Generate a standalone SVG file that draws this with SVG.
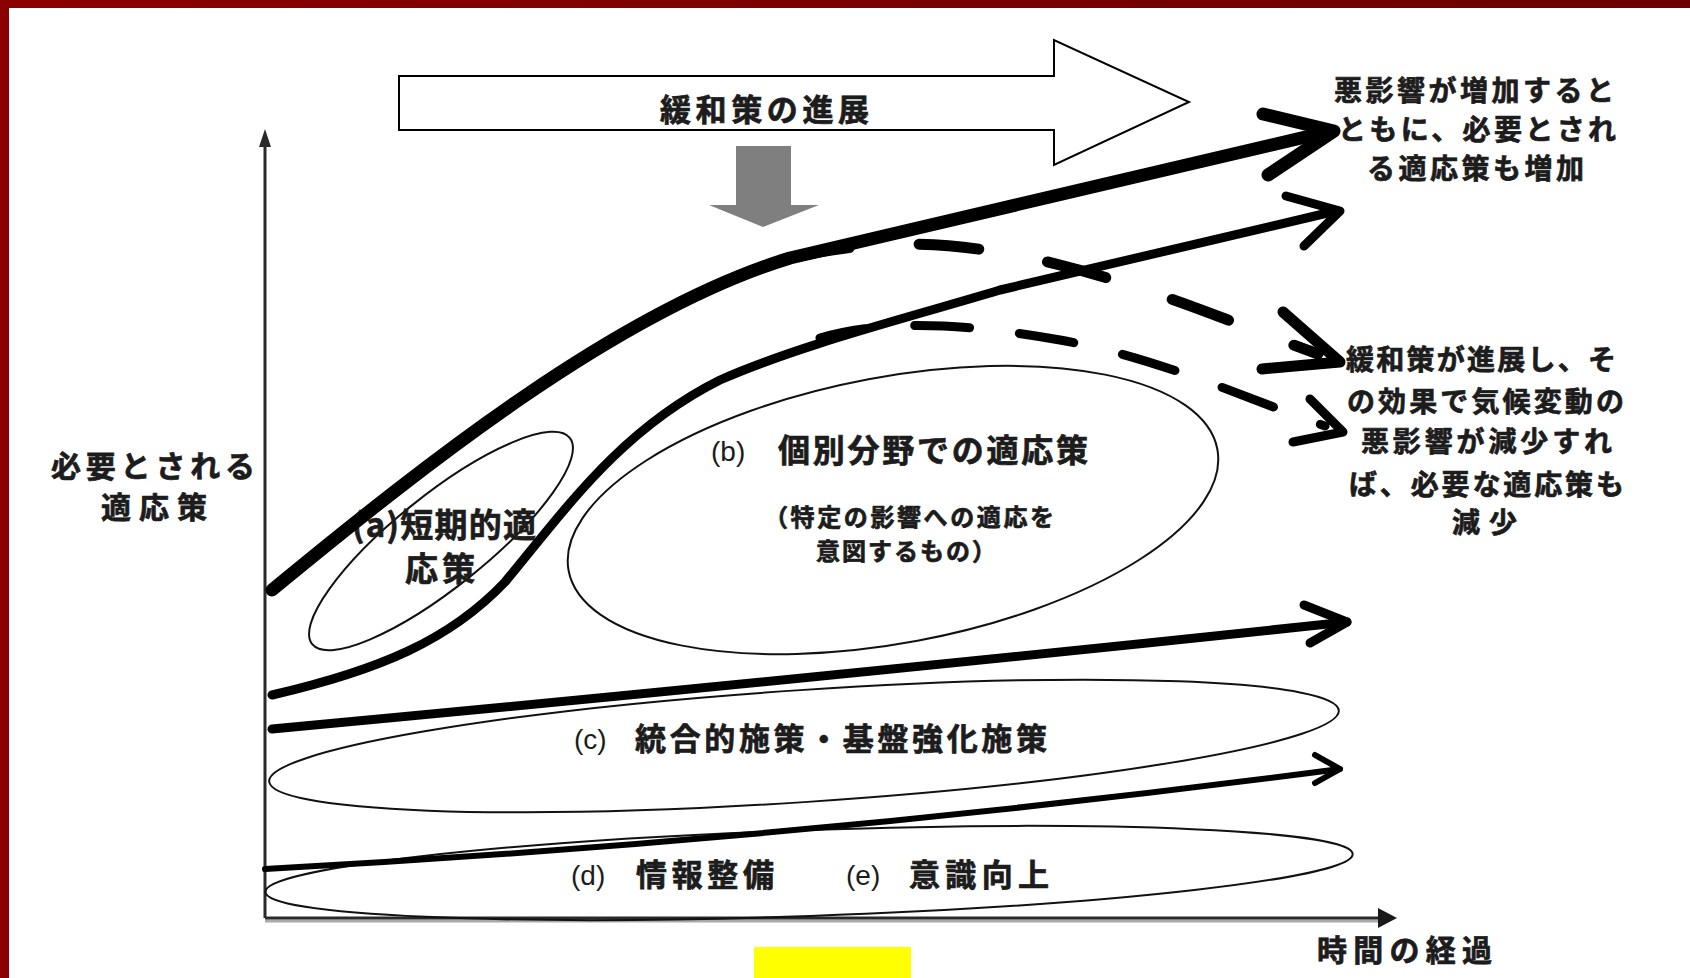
<svg xmlns="http://www.w3.org/2000/svg" width="1690" height="978" viewBox="0 0 1690 978">
<defs>
<style>
.jp{font-family:"Noto Sans CJK JP","Noto Sans CJK SC",sans-serif;font-weight:700;fill:#1c1c1c;stroke:#1c1c1c;stroke-width:0.7}
.lat{font-family:"Liberation Sans",Arial,sans-serif;fill:#1c1c1c}
.ell{fill:none;stroke:#111;stroke-width:2}
.ln{fill:none;stroke:#000;stroke-linecap:round;stroke-linejoin:round}
.axis{fill:none;stroke:#2a2a2a;stroke-width:3}
</style>
<linearGradient id="topband" x1="0" y1="0" x2="1" y2="0">
<stop offset="0" stop-color="#8b0000"/>
<stop offset="1" stop-color="#6c0000"/>
</linearGradient>
</defs>
<rect x="0" y="0" width="1690" height="978" fill="#fff"/>
<g id="frame">
<rect x="0" y="0" width="1690" height="8" fill="url(#topband)"/>
<rect x="0" y="0" width="9" height="978" fill="#8b0000"/>
</g>
<g id="axes">
<line class="axis" x1="265" y1="145" x2="265" y2="918"/>
<polygon points="265,129 259,147 271,147" fill="#2a2a2a"/>
<line x1="265" y1="921" x2="1380" y2="921" stroke="#aaa" stroke-width="3"/>
<line class="axis" x1="265" y1="918" x2="1382" y2="918"/>
<polygon points="1397,918 1378,908 1378,928" fill="#1a1a1a"/>
<text class="jp" x="1317" y="961" font-size="30" textLength="175" lengthAdjust="spacing">時間の経過</text>
</g>
<g id="node-mitigation">
<polygon points="399,76 1054,76 1054,40 1189,102 1054,165 1054,130 399,130" fill="#fff" stroke="#000" stroke-width="2"/>
<text class="jp" x="660" y="121" font-size="31" textLength="209" lengthAdjust="spacing">緩和策の進展</text>
</g>
<g id="node-down-arrow">
<polygon points="736,146 791,146 791,205 819,205 763,227 709,205 736,205" fill="#7f7f7f"/>
</g>
<g id="node-ylabel">
<text class="jp" x="51" y="477" font-size="30" textLength="204" lengthAdjust="spacing">必要とされる</text>
<text class="jp" x="101" y="518" font-size="30" textLength="106" lengthAdjust="spacing">適応策</text>
</g>
<g id="node-a">
<ellipse class="ell" cx="441" cy="541" rx="165" ry="46" transform="rotate(-38.7 441 541)"/>
<text class="jp" x="352" y="537" font-size="33" textLength="184" lengthAdjust="spacing">(a)短期的適</text>
<text class="jp" x="405" y="581" font-size="33" textLength="70" lengthAdjust="spacing">応策</text>
</g>
<g id="node-b">
<ellipse class="ell" cx="893" cy="510" rx="330" ry="133" transform="rotate(-10.6 893 510)"/>
<text class="lat" x="711" y="461" font-size="28">(b)</text>
<text class="jp" x="778" y="462" font-size="32" textLength="310" lengthAdjust="spacing">個別分野での適応策</text>
<text class="jp" x="764" y="526" font-size="24" textLength="290" lengthAdjust="spacing">（特定の影響への適応を</text>
<text class="jp" x="816" y="560" font-size="24" textLength="180" lengthAdjust="spacing">意図するもの）</text>
</g>
<g id="node-c">
<ellipse class="ell" cx="804" cy="746" rx="536" ry="56" transform="rotate(-3.8 804 746)"/>
<text class="lat" x="574" y="749" font-size="28">(c)</text>
<text class="jp" x="635" y="750" font-size="31" textLength="412" lengthAdjust="spacing">統合的施策・基盤強化施策</text>
</g>
<g id="node-de">
<ellipse class="ell" cx="809" cy="873" rx="544" ry="43" transform="rotate(-2 809 873)"/>
<text class="lat" x="571" y="885" font-size="28">(d)</text>
<text class="jp" x="636" y="886" font-size="31" textLength="138" lengthAdjust="spacing">情報整備</text>
<text class="lat" x="846" y="885" font-size="28">(e)</text>
<text class="jp" x="909" y="886" font-size="31" textLength="140" lengthAdjust="spacing">意識向上</text>
</g>
<g id="connectors">
<path class="ln" stroke-width="13" d="M272,590 C430,460 620,310 790,258 L1331,131"/>
<polyline class="ln" stroke-width="13" points="1263,114 1334,131 1268,175"/>
<path class="ln" stroke-width="11" stroke-linecap="butt" stroke-dasharray="60 70" stroke-dashoffset="10" d="M800,256 C880,238 960,240 1060,265 S1250,330 1318,354"/>
<polyline class="ln" stroke-width="11" points="1283,312 1340,362 1262,369"/>
<path class="ln" stroke-width="9" d="M272,695 C380,670 450,640 505,582 C565,510 620,430 720,380 C800,345 900,320 1000,290 L1336,211"/>
<polyline class="ln" stroke-width="9" points="1286,196 1340,211 1304,246"/>
<path class="ln" stroke-width="9" stroke-linecap="butt" stroke-dasharray="55 50" stroke-dashoffset="9" d="M820,338 C880,320 960,322 1060,340 S1250,400 1325,426"/>
<polyline class="ln" stroke-width="9" points="1310,399 1343,432 1293,442"/>
<path class="ln" stroke-width="9" d="M272,729 Q800,680 1347,622"/>
<polyline class="ln" stroke-width="9" points="1304,605 1347,622 1310,643"/>
<path class="ln" stroke-width="6" d="M265,869 Q800,840 1340,769"/>
<polyline class="ln" stroke-width="6" points="1315,755 1340,769 1315,783"/>
</g>
<g id="node-note-increase">
<text class="jp" x="1334" y="101" font-size="28" textLength="280" lengthAdjust="spacing">悪影響が増加すると</text>
<text class="jp" x="1338" y="140" font-size="28" textLength="278" lengthAdjust="spacing">ともに、必要とされ</text>
<text class="jp" x="1367" y="179" font-size="28" textLength="217" lengthAdjust="spacing">る適応策も増加</text>
</g>
<g id="node-note-decrease">
<text class="jp" x="1346" y="370" font-size="28" textLength="270" lengthAdjust="spacing">緩和策が進展し、そ</text>
<text class="jp" x="1347" y="412" font-size="28" textLength="277" lengthAdjust="spacing">の効果で気候変動の</text>
<text class="jp" x="1361" y="452" font-size="28" textLength="251" lengthAdjust="spacing">悪影響が減少すれ</text>
<text class="jp" x="1349" y="495" font-size="28" textLength="275" lengthAdjust="spacing">ば、必要な適応策も</text>
<text class="jp" x="1452" y="533" font-size="28" textLength="65" lengthAdjust="spacing">減少</text>
</g>
<rect x="754" y="947" width="157" height="31" fill="#ffff00"/>
</svg>
